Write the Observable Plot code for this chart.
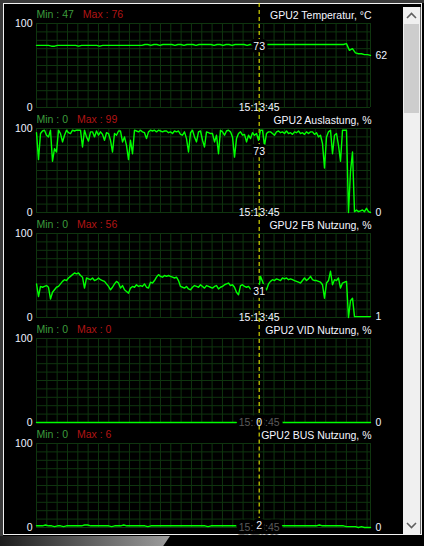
<!DOCTYPE html>
<html><head><meta charset="utf-8">
<script src="https://cdn.jsdelivr.net/npm/d3@7"></script>
<script src="https://cdn.jsdelivr.net/npm/@observablehq/plot@0.6"></script>
<style>
html,body{margin:0;padding:0;background:#000;}
body{width:424px;height:546px;overflow:hidden;position:relative;font-family:"Liberation Sans",Arial,sans-serif;}
#topband{position:absolute;left:0;top:0;width:424px;height:3px;background:#3a3a3a;}
#leftband{position:absolute;left:0;top:0;width:3px;height:536px;background:#3a3a3a;}
#win{position:absolute;left:3px;top:3px;width:417px;height:530px;border:1px solid #f2f2f2;background:#000;}
#scroll{position:absolute;left:403px;top:7px;width:17px;height:527px;background:#f0f0f0;border-right:1px solid #6a6a6a;}
#thumb{position:absolute;left:1px;top:17px;width:15px;height:89px;background:#cdcdcd;}
#bottom{position:absolute;left:0;top:536px;width:170px;height:10px;background:linear-gradient(to right,#1c1c1c,#9c9c9c);clip-path:polygon(0 0,100% 0,96% 100%,0 100%);}
.panel{position:absolute;left:4px;}
svg{overflow:visible;}
</style>
</head><body>
<div id="topband"></div><div id="leftband"></div>
<div id="win"></div>
<div id="scroll">
  <svg style="position:absolute;left:3px;top:5px" width="11" height="8"><polyline points="1,6 5.5,1.5 10,6" fill="none" stroke="#606060" stroke-width="1.6"/></svg>
  <div id="thumb"></div>
  <svg style="position:absolute;left:3px;top:514px" width="11" height="8"><polyline points="1,2 5.5,6.5 10,2" fill="none" stroke="#606060" stroke-width="1.6"/></svg>
</div>
<div id="bottom"></div>
<div id="panels"></div>
<script>
// ---- data ----
const titles = ["GPU2 Temperatur, °C", "GPU2 Auslastung, %", "GPU2 FB Nutzung, %", "GPU2 VID Nutzung, %", "GPU2 BUS Nutzung, %"];
const minValues = [47, 0, 0, 0, 0];
const maxValues = [76, 99, 56, 0, 6];
const cursorValues = [73, 73, 31, 0, 2];
const cursorTime = "15:13:45";
const timeSpan = 111;      // history window, time units
const cursorTime_x = 74;   // cursor position in the window
const yTicks = [0, 100];

const temperature = [
 74,74,74,74,74,73,73,74,74,74,
 74,74,74,74,73,74,74,74,74,74,
 74,73,74,74,74,74,74,74,74,74,
 74,74,74,74,74,74,75,75,74,75,
 75,74,75,75,75,75,74,75,75,74,
 75,75,75,74,75,75,75,75,75,74,
 75,75,74,75,75,74,75,75,75,75,
 74,75,75,75,75,75,75,75,75,75,
 75,75,75,75,75,75,75,75,75,75,
 75,75,75,75,75,75,75,75,75,75,
 75,75,75,76,68,70,65,64,64,63,
 63,62];
const gpuLoad = [
 95,63,94,97,98,92,90,98,61,76,
 72,98,94,84,92,98,95,94,98,97,
 98,98,98,78,98,90,85,96,96,90,
 97,92,96,93,86,95,94,86,72,94,
 92,97,97,84,90,80,63,86,70,98,
 97,96,98,96,95,88,96,98,97,98,
 96,98,97,96,97,97,95,96,94,97,
 96,97,93,92,96,88,72,95,98,90,
 84,96,97,86,78,96,95,94,94,84,
 92,70,98,96,92,97,98,96,90,66,
 88,94,96,92,93,84,92,88,95,92,
 94,86,98,98,80,94,96,96,94,92,
 96,97,95,96,94,97,94,95,93,96,
 95,97,94,95,93,96,94,96,96,93,
 95,90,92,82,53,90,96,98,70,92,
 94,80,61,98,98,98,0,49,72,1,
 3,1,2,3,1,5,1,0];
const fbUsage = [
 40,25,37,36,37,38,36,22,30,33,
 36,37,40,43,45,44,47,49,51,53,
 52,53,50,48,35,47,46,45,47,44,
 45,47,45,44,43,40,37,33,36,40,
 43,41,35,38,33,31,29,35,37,36,
 39,37,38,37,40,36,35,42,41,44,
 48,51,49,48,50,49,50,49,48,47,
 48,44,37,36,35,37,34,33,36,38,
 37,36,39,37,35,38,37,36,35,37,
 38,34,36,37,39,40,41,38,39,36,
 30,27,38,39,37,36,37,34,33,32,
 31,31,49,43,36,33,40,43,45,44,
 46,45,44,47,46,47,45,46,45,44,
 43,42,41,44,47,44,46,49,45,44,
 44,43,42,39,23,41,44,55,39,45,
 44,47,35,41,42,43,0,20,23,1,
 1,1,1,1,1,1,1,1];
const vidUsage = [
 0,0,0,0,0,0,0,0,0,0,
 0,0,0,0,0,0,0,0,0,0,
 0,0,0,0,0,0,0,0,0,0,
 0,0,0,0,0,0,0,0,0,0,
 0,0,0,0,0,0,0,0,0,0,
 0,0,0,0,0,0,0,0,0,0,
 0,0,0,0,0,0,0,0,0,0,
 0,0,0,0,0,0,0,0,0,0,
 0,0,0,0,0,0,0,0,0,0,
 0,0,0,0,0,0,0,0,0,0,
 0,0,0,0,0,0,0,0,0,0,
 0,0];
const busUsage = [
 2,2,2,3,2,2,1,2,2,1,
 2,2,2,2,2,2,3,3,2,2,
 2,2,2,2,2,1,2,2,2,3,
 2,2,2,2,2,2,2,1,2,2,
 2,2,2,2,2,2,2,2,2,2,
 2,2,2,2,2,2,2,1,2,2,
 2,2,2,2,2,2,2,2,2,2,
 2,2,2,2,2,2,2,2,2,2,
 2,2,2,2,2,2,2,2,2,2,
 2,2,2,2,3,2,2,2,2,2,
 2,2,2,1,1,1,1,0,1,0,
 0,0];
const series = [temperature, gpuLoad, fbUsage, vidUsage, busUsage];

// ---- styling ----
const FONT = "'Liberation Sans', Arial, sans-serif";
const FS = 10.5;
const gridColor = "#0f350f";
const lineColor = "#00ff00";
const gridStep = 3.433;                       // vertical grid spacing, time units
const vGrid = d3.range(0, timeSpan, gridStep).concat([timeSpan]);
const hGrid = d3.range(0, 101, 10);

const canvas = document.createElement("canvas");
const ctx = canvas.getContext("2d");
ctx.font = `${FS}px ${FONT}`;

const host = document.getElementById("panels");
series.forEach((values, k) => {
  const data = values.map((v, i) => ({t: i * timeSpan / (values.length - 1), v}));
  const last = data[data.length - 1];
  const minText = `Min : ${minValues[k]}`;
  const maxDx = ctx.measureText(minText).width + 9;
  const dim = k >= 3;
  const chart = Plot.plot({
    width: 400, height: 112,
    marginLeft: 32, marginRight: 34, marginTop: 23, marginBottom: 5,
    x: {domain: [0, timeSpan], axis: null},
    y: {domain: [0, 100], ticks: yTicks, tickSize: 0, tickPadding: 4, label: null, tickFormat: d => String(d)},
    style: {background: "transparent", color: "#eef3ff", fontFamily: FONT, fontSize: FS + "px", overflow: "visible"},
    marks: [
      Plot.ruleY(hGrid, {stroke: gridColor, strokeWidth: 1}),
      Plot.ruleX(vGrid, {stroke: gridColor, strokeWidth: 1}),
      Plot.ruleX([cursorTime_x], {y1: k === 4 ? -9 : 2.4, y2: 127.4, stroke: "#ffff00", strokeWidth: 1, strokeDasharray: "4,3"}),
      Plot.line(data, {x: "t", y: "v", stroke: lineColor, strokeWidth: 1.4}),
      Plot.text([cursorTime], {x: cursorTime_x, y: 0, text: d => d, textAnchor: "middle", lineAnchor: "middle",
        fill: dim ? "#5a5a5a" : "#f4f6ff", stroke: dim ? "black" : "none", strokeWidth: dim ? 7 : 0, paintOrder: "stroke"}),
      Plot.text([cursorValues[k]], {x: cursorTime_x, y: d => d, text: d => String(d), textAnchor: "middle", lineAnchor: "middle",
        fill: "#f4f6ff", stroke: "black", strokeWidth: 6, paintOrder: "stroke"}),
      Plot.text([last], {x: "t", y: "v", text: d => String(d.v), dx: 5, textAnchor: "start", lineAnchor: "middle", fill: "#eef3ff"}),
      Plot.text([minText], {frameAnchor: "top-left", text: d => d, textAnchor: "start", lineAnchor: "middle", dy: -9, fill: "#3c9c3c"}),
      Plot.text([`Max : ${maxValues[k]}`], {frameAnchor: "top-left", text: d => d, textAnchor: "start", lineAnchor: "middle", dy: -9, dx: maxDx, fill: "#b01414"}),
      Plot.text([titles[k]], {frameAnchor: "top-right", text: d => d, textAnchor: "end", lineAnchor: "middle", dy: -8, dx: 1, fill: "#f4f6ff"})
    ]
  });
  const div = document.createElement("div");
  div.className = "panel";
  div.style.top = (105 * k) + "px";
  div.appendChild(chart);
  host.appendChild(div);
});
</script>
</body></html>
